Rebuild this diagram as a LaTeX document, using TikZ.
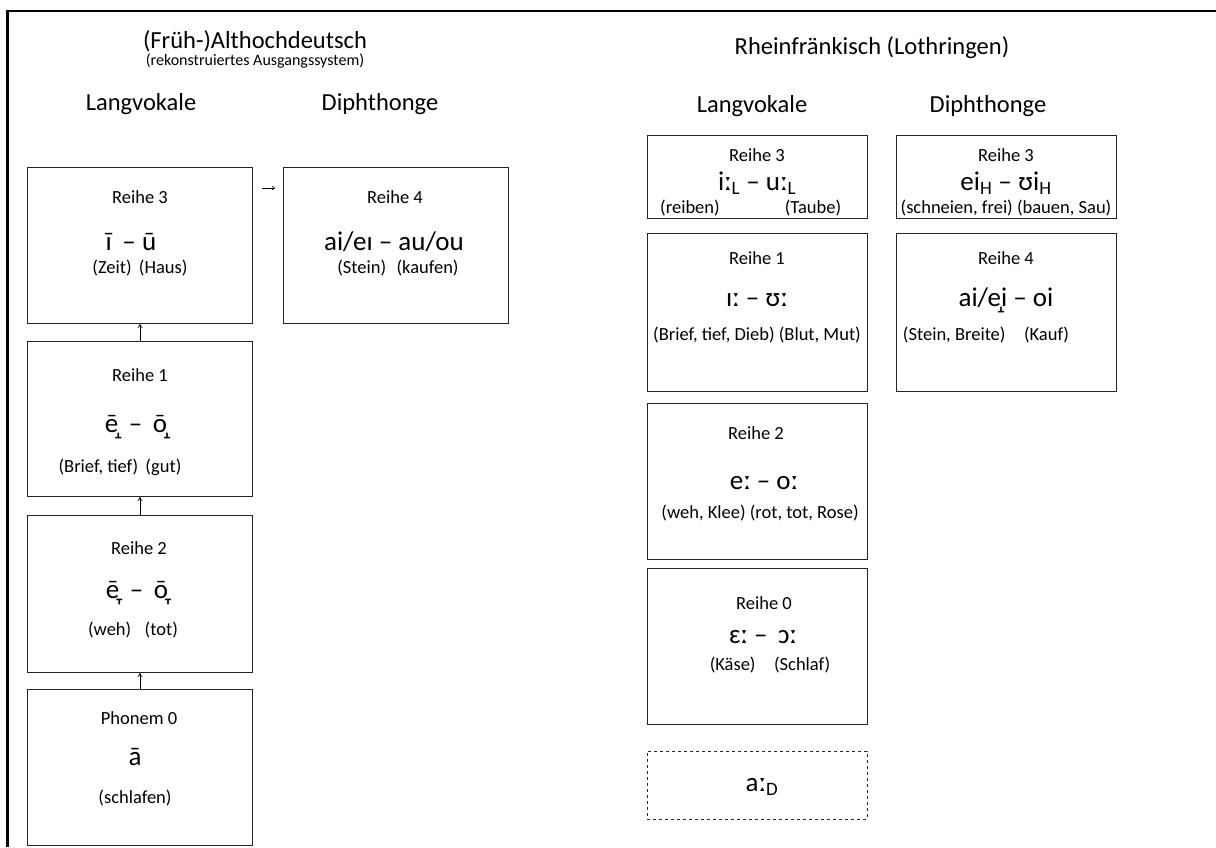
\documentclass[tikz,border=0pt]{standalone}
\usepackage{fontspec}
\setmainfont{Carlito}
\usetikzlibrary{arrows.meta}
\begin{document}
\begin{tikzpicture}[x=1pt,y=-1pt,
  box/.style={draw=black!85,line width=0.9pt,anchor=north west,inner sep=0pt},
  dbox/.style={box,dashed},
  lbl/.style={inner sep=0pt,font=\fontsize{18.5}{22}\selectfont},
  ipa/.style={inner sep=0pt,font=\fontsize{27}{31}\selectfont},
  head/.style={inner sep=0pt,font=\fontsize{24.5}{29}\selectfont},
  up/.style={-{To[length=4pt,width=5pt]},line width=0.7pt}]
\useasboundingbox (0,0) rectangle (1216,847);
\fill[white] (0,0) rectangle (1216,847);
% page frame
\draw[line width=2.4pt] (7.5,847) -- (7.5,11) -- (1216,11);

% headings
\node[head] (t1) at (255,41) {(Früh-)Althochdeutsch};
\node[inner sep=0pt,font=\fontsize{16}{18}\selectfont] (t1s) at (255,61) {(rekonstruiertes Ausgangssystem)};
\node[head] (h1) at (141,104) {Langvokale};
\node[head] (h2) at (380,104) {Diphthonge};
\node[head] (t2) at (872,48) {Rheinfränkisch (Lothringen)};
\node[head] (h3) at (752,106) {Langvokale};
\node[head] (h4) at (988,106) {Diphthonge};

% left columns
\node[box,minimum width=225pt,minimum height=156pt] (l3) at (27,167) {};
\node[box,minimum width=225pt,minimum height=156pt] (d4) at (283,167) {};
\node[box,minimum width=225pt,minimum height=155pt] (l1) at (27,341) {};
\node[box,minimum width=225pt,minimum height=157pt] (l2) at (27,515) {};
\node[box,minimum width=225pt,minimum height=156pt] (l0) at (27,689) {};

\node[lbl] (l3a) at (140,197) {Reihe 3};
\node[ipa] (l3b) at (131,242) {ī\, – ū};
\node[lbl] (l3c) at (140,268) {(Zeit)\, (Haus)};

\node[lbl] (d4a) at (395,197) {Reihe 4};
\node[ipa] (d4b) at (394,242) {ai/eɪ – au/ou};
\node[lbl] (d4c) at (398,268) {(Stein)\,\, (kaufen)};

\node[lbl] (l1a) at (140,375) {Reihe 1};
\node[ipa] (l1b) at (136,427) {ē̝\, – \,ō̝};
\node[lbl] (l1c) at (120,467) {(Brief, tief)\, (gut)};

\node[lbl] (l2a) at (139,548) {Reihe 2};
\node[ipa] (l2b) at (137,593) {ē̞\, – \,ō̞};
\node[lbl] (l2c) at (133,630) {(weh)\,\,\, (tot)};

\node[lbl] (l0a) at (139,718) {Phonem 0};
\node[ipa] (l0b) at (135,757) {ā};
\node[lbl] (l0c) at (135,798) {(schlafen)};

% shift arrows
\draw[up] (l1.north) -- (l3.south);
\draw[up] (l2.north) -- (l1.south);
\draw[up] (l0.north) -- (l2.south);
\coordinate (ra) at (262,188);
\coordinate (rb) at (275,188);
\draw[-{To[length=3pt,width=4pt]},line width=0.6pt] (ra) -- (rb);

% right columns
\node[box,minimum width=220pt,minimum height=83pt] (r3) at (647,135) {};
\node[box,minimum width=220pt,minimum height=83pt] (q3) at (896,135) {};
\node[box,minimum width=220pt,minimum height=158pt] (r1) at (647,233) {};
\node[box,minimum width=220pt,minimum height=158pt] (q4) at (896,233) {};
\node[box,minimum width=220pt,minimum height=156pt] (r2) at (647,403) {};
\node[box,minimum width=220pt,minimum height=156pt] (r0) at (647,568) {};
\node[dbox,minimum width=220pt,minimum height=68pt] (rd) at (647,751) {};

\node[lbl] (r3a) at (757,155) {Reihe 3};
\node[ipa] (r3b) at (757,183) {iː\textsubscript{L} – uː\textsubscript{L}};
\node[lbl] (r3c) at (690,208) {(reiben)};
\node[lbl] (r3d) at (813,208) {(Taube)};

\node[lbl] (q3a) at (1006,155) {Reihe 3};
\node[ipa] (q3b) at (1006,183) {ei\textsubscript{H} – ʊi\textsubscript{H}};
\node[lbl] (q3c) at (1006,208) {(schneien, frei) (bauen, Sau)};

\node[lbl] (r1a) at (757,258) {Reihe 1};
\node[ipa] (r1b) at (757,300) {ɪː – ʊː};
\node[lbl] (r1c) at (757,335) {(Brief, tief, Dieb) (Blut, Mut)};

\node[lbl] (q4a) at (1006,258) {Reihe 4};
\node[ipa] (q4b) at (1006,300) {ai/e̝i – oi};
\node[lbl] (q4c) at (986,335) {(Stein, Breite)\quad (Kauf)};

\node[lbl] (r2a) at (756,433) {Reihe 2};
\node[ipa] (r2b) at (764,483) {eː – oː};
\node[lbl] (r2c) at (760,513) {(weh, Klee) (rot, tot, Rose)};

\node[lbl] (r0a) at (764,603) {Reihe 0};
\node[ipa] (r0b) at (763,637) {ɛː –\, ɔː};
\node[lbl] (r0c) at (770,665) {(Käse)\quad(Schlaf)};

\node[ipa] (rdb) at (762,787) {aː\textsubscript{D}};
\end{tikzpicture}
\end{document}
